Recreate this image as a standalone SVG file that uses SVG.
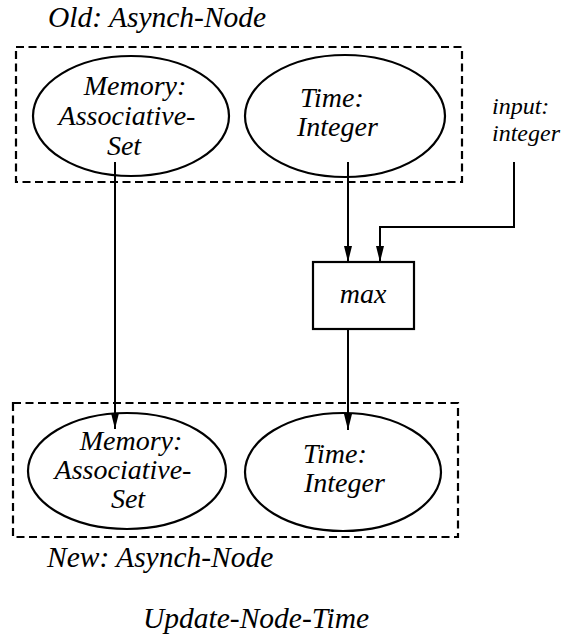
<svg xmlns="http://www.w3.org/2000/svg" width="577" height="636" viewBox="0 0 577 636">
<defs>
<style>
text{font-family:'Liberation Serif','Times New Roman','DejaVu Serif',serif;font-style:italic;font-size:28px;fill:#000}
.c{text-anchor:middle}
.big{font-size:29.5px}
.sm{font-size:24px}
.node{fill:none;stroke:#000;stroke-width:2.2}
.grp{fill:none;stroke:#000;stroke-width:2.2;stroke-dasharray:8 4.5}
.edge{fill:none;stroke:#000;stroke-width:2}
</style>
<marker id="arrL" viewBox="0 0 16 10" refX="16" refY="5" markerWidth="16" markerHeight="10" markerUnits="userSpaceOnUse" orient="auto">
<path d="M0,1 L16,5 L0,9 Z" fill="#000"/>
</marker>
</defs>
<rect width="577" height="636" fill="#fff"/>

<g id="old-group">
<rect class="grp" x="16" y="47" width="446" height="135"/>
<text class="big" x="48" y="27">Old: Asynch-Node</text>
</g>
<g id="new-group">
<rect class="grp" x="13" y="403" width="445" height="134"/>
<text class="big" x="47" y="567">New: Asynch-Node</text>
</g>

<g id="connectors">
<path class="edge" d="M115,162 V429" marker-end="url(#arrL)"/>
<path class="edge" d="M348,162 V262" marker-end="url(#arrL)"/>
<path class="edge" d="M514,162 V227 H380 V262" marker-end="url(#arrL)"/>
<path class="edge" d="M348,329 V430" marker-end="url(#arrL)"/>
</g>

<g id="old-memory">
<ellipse class="node" cx="131" cy="116" rx="98" ry="60"/>
<text class="c" x="135" y="95">Memory:</text>
<text class="c" x="127" y="125">Associative-</text>
<text class="c" x="124" y="155">Set</text>
</g>
<g id="old-time">
<ellipse class="node" cx="345" cy="116" rx="100" ry="61"/>
<text x="300" y="107">Time:</text>
<text x="297" y="136">Integer</text>
</g>
<g id="input">
<text class="sm" x="492" y="114">input:</text>
<text class="sm" x="492" y="141">integer</text>
</g>
<g id="max">
<rect class="node" x="313" y="262" width="101" height="67"/>
<text class="c" x="363" y="303">max</text>
</g>
<g id="new-memory">
<ellipse class="node" cx="127" cy="471" rx="99" ry="58"/>
<text class="c" x="131" y="450">Memory:</text>
<text class="c" x="123" y="479">Associative-</text>
<text class="c" x="128" y="508">Set</text>
</g>
<g id="new-time">
<ellipse class="node" cx="343" cy="472" rx="98" ry="59"/>
<text x="303" y="463">Time:</text>
<text x="304" y="492">Integer</text>
</g>
<g id="title">
<text class="big" x="143" y="628">Update-Node-Time</text>
</g>
</svg>
